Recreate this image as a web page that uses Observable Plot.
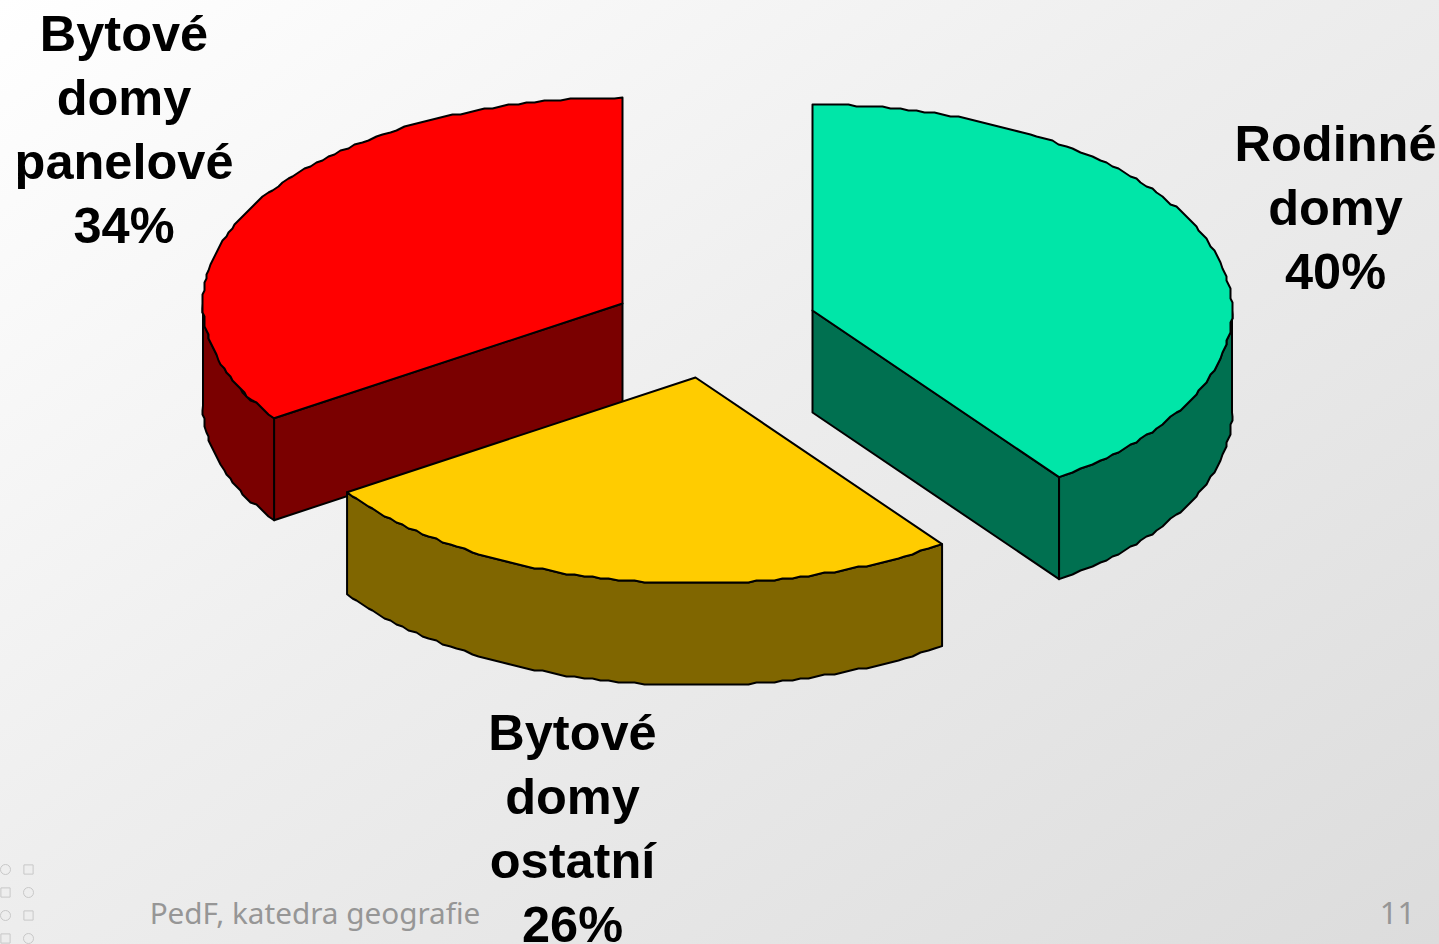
<!DOCTYPE html>
<html><head><meta charset="utf-8">
<script src="https://cdn.jsdelivr.net/npm/d3@7"></script>
<script src="https://cdn.jsdelivr.net/npm/@observablehq/plot@0.6"></script>
<style>html,body{margin:0;padding:0;overflow:hidden;width:1439px;height:944px;background:linear-gradient(145deg,#ffffff 0%,#eeeeee 45%,#dcdcdc 100%)}svg{display:block}</style>
</head><body><div id="c"></div>
<script>
const categories = ["Rodinné\ndomy\n40%", "Bytové\ndomy\nostatní\n26%", "Bytové\ndomy\npanelové\n34%"];
const shares = [40, 25.6, 34.4];
const topColors = ["#00e6a8", "#ffcc00", "#ff0000"];
const sideColors = ["#007050", "#806600", "#7a0000"];
const centerX = [812, 695, 622];
const centerY = [310, 377, 303];
const labelX = [1335, 572, 123.5];
const labelY = [204, 825, 126];
const footerText = "PedF, katedra geografie";
const pageNumber = "11";
const markerRowsY = [869, 892, 915, 938];

const rx = 419.5, ry = 206, depth = 102, grid = 2, stepDeg = 1.2;
const snap = v => Math.round(v / grid) * grid;

let cum = 0;
const slices = shares.map((s, i) => {
  const a0 = cum * 3.6; cum += s; const a1 = cum * 3.6;
  return {i, a0, a1};
});
function rimArc(i, a0, a1, dy = 0) {
  const pts = [];
  const n = Math.max(1, Math.round((a1 - a0) / stepDeg));
  for (let k = 0; k <= n; k++) {
    const t = (a0 + (a1 - a0) * k / n) * Math.PI / 180;
    const end = k === 0 || k === n;
    const x = centerX[i] + rx * Math.sin(t), y = centerY[i] - ry * Math.cos(t);
    pts.push({x: end ? x : snap(x), y: (end ? y : snap(y)) + dy});
  }
  return pts;
}
const faceMark = (pts, fill) => Plot.line([...pts, pts[0]], {x: "x", y: "y", fill, stroke: "#000", strokeWidth: 2, strokeLinejoin: "round", curve: "linear"});

function wallMarks(s) {
  const {i, a0, a1} = s, c = sideColors[i], out = [];
  const ctr = {x: centerX[i], y: centerY[i]};
  // visible outer wall: the portion of the rim facing the viewer (90°..270°)
  const w0 = Math.max(a0, 90), w1 = Math.min(a1, 270);
  if (w1 > w0) out.push(faceMark([...rimArc(i, w0, w1), ...rimArc(i, w0, w1, depth).reverse()], c));
  // visible cut faces
  const cut = a => {
    const t = a * Math.PI / 180;
    const e = {x: ctr.x + rx * Math.sin(t), y: ctr.y - ry * Math.cos(t)};
    return faceMark([ctr, e, {x: e.x, y: e.y + depth}, {x: ctr.x, y: ctr.y + depth}], c);
  };
  if (i === 0) out.unshift(cut(a1));
  if (i === 2) out.unshift(cut(a0));
  return out;
}
function topMark(s) {
  const {i, a0, a1} = s;
  return faceMark([{x: centerX[i], y: centerY[i]}, ...rimArc(i, a0, a1)], topColors[i]);
}
const order = [2, 0, 1];
const pieMarks = order.flatMap(k => [...wallMarks(slices[k]), topMark(slices[k])]);

const labels = categories.map((t, i) => ({t, x: labelX[i], y: labelY[i]}));
const circles = markerRowsY.map((y, r) => ({x: r % 2 ? 28 : 5, y}));
const squares = markerRowsY.map((y, r) => ({x: r % 2 ? 5 : 28, y}));

const chart = Plot.plot({
  width: 1439, height: 944, margin: 0,
  style: {background: "transparent"},
  x: {domain: [0, 1439], range: [0, 1439], axis: null},
  y: {domain: [0, 944], range: [0, 944], axis: null},
  marks: [
    ...pieMarks,
    Plot.text(labels, {x: "x", y: "y", text: "t", fontFamily: "Liberation Sans", fontWeight: "bold", fontSize: 50.5, lineHeight: 1.272, fill: "#000", textAnchor: "middle"}),
    Plot.text([footerText], {x: 314.5, y: 914, text: d => d, fontFamily: "Noto Sans", fontSize: 29.7, fill: "#969696", textAnchor: "middle"}),
    Plot.text([pageNumber], {x: 1397, y: 914, text: d => d, fontFamily: "Noto Sans", fontSize: 31, fill: "#969696", textAnchor: "middle"}),
    Plot.dot(circles, {x: "x", y: "y", r: 5, symbol: "circle", stroke: "#c8c8c8", strokeWidth: 1}),
    Plot.dot(squares, {x: "x", y: "y", r: 5.2, symbol: "square", stroke: "#c8c8c8", strokeWidth: 1})
  ]
});
document.getElementById("c").appendChild(chart);
</script></body></html>
